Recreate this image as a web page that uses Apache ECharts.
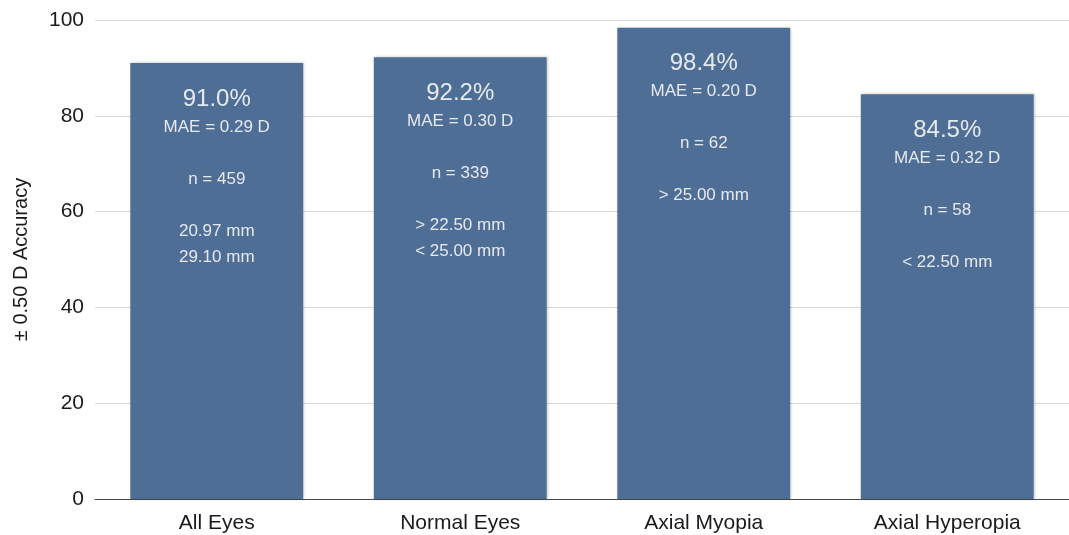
<!DOCTYPE html>
<html>
<head>
<meta charset="utf-8">
<script src="https://cdn.jsdelivr.net/npm/echarts@6/dist/echarts.min.js"></script>
<style>
  html, body { margin: 0; padding: 0; background: #ffffff; }
  #chart { width: 1069px; height: 535px; }
</style>
</head>
<body>
<div id="chart"></div>
<script>
// Accuracy within ±0.50 D by axial-length group
const categories = ['All Eyes', 'Normal Eyes', 'Axial Myopia', 'Axial Hyperopia'];
const accuracy = [91.0, 92.2, 98.4, 84.5];
const maeValues = ['0.29', '0.30', '0.20', '0.32'];
const counts = [459, 339, 62, 58];
const rangeLines = [
  ['20.97 mm', '29.10 mm'],
  ['> 22.50 mm', '< 25.00 mm'],
  ['> 25.00 mm'],
  ['< 22.50 mm']
];
const yTicks = { min: 0, max: 100, interval: 20 };

const FONT = '"Liberation Sans", Arial, Helvetica, sans-serif';
const BAR = '#4f6e96';
const LABEL = '#e6e9ee';

const chart = echarts.init(document.getElementById('chart'));

chart.setOption({
  animation: false,
  backgroundColor: '#ffffff',
  grid: { left: 95, right: -2, top: 20, bottom: 36, containLabel: false },
  xAxis: {
    type: 'category',
    data: categories,
    axisTick: { show: false },
    axisLine: { lineStyle: { color: '#4a4a4a', width: 1 } },
    axisLabel: { color: '#1a1a1a', fontSize: 21, fontFamily: FONT, margin: 14 }
  },
  yAxis: {
    type: 'value',
    min: yTicks.min,
    max: yTicks.max,
    interval: yTicks.interval,
    name: '± 0.50 D Accuracy',
    nameLocation: 'middle',
    nameRotate: 90,
    nameGap: 64,
    nameTextStyle: { color: '#1a1a1a', fontSize: 20, fontFamily: FONT },
    axisLine: { show: false },
    axisTick: { show: false },
    axisLabel: { color: '#1a1a1a', fontSize: 21, fontFamily: FONT, margin: 11 },
    splitLine: { lineStyle: { color: '#d6d6d6', width: 1 } }
  },
  series: [{
    type: 'bar',
    data: accuracy,
    barCategoryGap: '29%',
    itemStyle: {
      color: BAR,
      shadowColor: 'rgba(0,0,0,0.25)',
      shadowBlur: 3,
      shadowOffsetX: 1,
      shadowOffsetY: 0
    },
    label: {
      show: true,
      position: 'insideTop',
      distance: 21,
      color: LABEL,
      fontFamily: FONT,
      lineHeight: 26,
      formatter: function (p) {
        const i = p.dataIndex;
        const lines = [
          '{pct|' + accuracy[i].toFixed(1) + '%}',
          '{sm|MAE = ' + maeValues[i] + ' D}',
          '{sm| }',
          '{sm|n = ' + counts[i] + '}',
          '{sm| }'
        ];
        rangeLines[i].forEach(function (r) { lines.push('{sm|' + r + '}'); });
        return lines.join('\n');
      },
      rich: {
        pct: { fontSize: 24, lineHeight: 30, color: LABEL, fontFamily: FONT },
        sm: { fontSize: 17, lineHeight: 26, color: LABEL, fontFamily: FONT }
      }
    }
  }]
});
</script>
</body>
</html>
